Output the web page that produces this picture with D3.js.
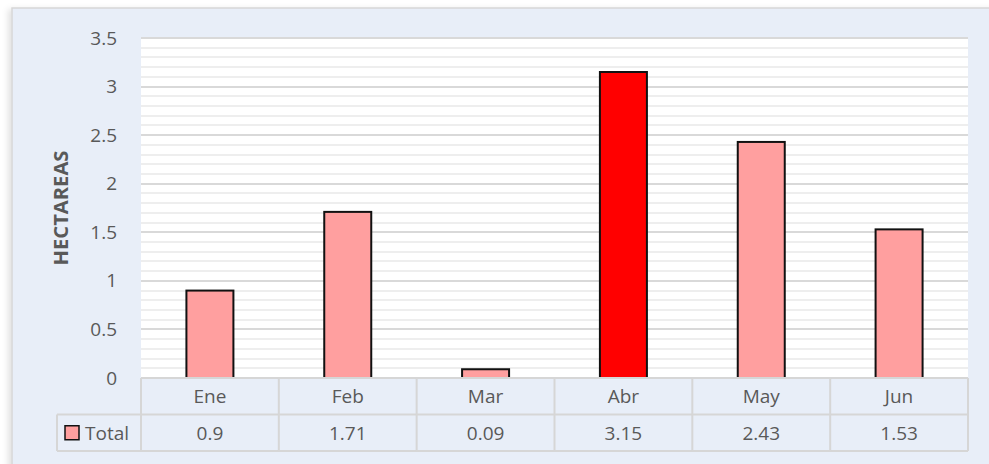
<!DOCTYPE html>
<html>
<head>
    <meta charset="utf-8" />
    <title>Hectareas</title>
    <script src="https://cdn.jsdelivr.net/npm/d3@7"></script>
    <style>
        body { margin: 0; background: #fff; }
        text { font-family: "Open Sans", "Noto Sans", sans-serif; fill: #595959; }
    </style>
</head>
<body>
<script>
    // datos
    var months = ["Ene", "Feb", "Mar", "Abr", "May", "Jun"];
    var totals = [0.9, 1.71, 0.09, 3.15, 2.43, 1.53];
    var totalLabels = ["0.9", "1.71", "0.09", "3.15", "2.43", "1.53"];
    var yTicks = [0, 0.5, 1, 1.5, 2, 2.5, 3, 3.5];
    var highlight = "Abr";

    var width = 989,
        height = 464,
        plotLeft = 141,
        plotRight = 968,
        plotTop = 38,
        plotBottom = 378,
        rowH = 36.5,
        fontSize = "19px";

    var x = d3.scaleBand().domain(months).range([plotLeft, plotRight]).paddingInner(0).paddingOuter(0);
    var y = d3.scaleLinear().domain([0, 3.5]).range([plotBottom, plotTop]);

    var svg = d3.select("body").append("svg")
        .attr("width", width)
        .attr("height", height);

    // fondo del grafico con sombra
    var defs = svg.append("defs");
    var f = defs.append("filter").attr("id", "shadow").attr("x", "-5%").attr("y", "-5%").attr("width", "110%").attr("height", "110%");
    f.append("feDropShadow").attr("dx", -3).attr("dy", 2).attr("stdDeviation", 3).attr("flood-color", "#000").attr("flood-opacity", 0.12);

    svg.append("rect")
        .attr("x", 12).attr("y", 8)
        .attr("width", width).attr("height", height)
        .attr("fill", "#E8EEF8")
        .attr("stroke", "#d6d6d6")
        .attr("stroke-width", 1.5)
        .attr("filter", "url(#shadow)");

    // area de trazado
    svg.append("rect")
        .attr("x", plotLeft).attr("y", plotTop)
        .attr("width", plotRight - plotLeft).attr("height", plotBottom - plotTop)
        .attr("fill", "#fff");

    // lineas menores
    var minor = d3.range(1, 35).filter(function(i) { return i % 5 !== 0; }).map(function(i) { return i / 10; });
    svg.append("g").selectAll("line")
        .data(minor)
        .enter().append("line")
        .attr("x1", plotLeft).attr("x2", plotRight)
        .attr("y1", function(d) { return Math.round(y(d)); })
        .attr("y2", function(d) { return Math.round(y(d)); })
        .attr("stroke", "#eeeeee")
        .attr("stroke-width", 2);

    // lineas mayores
    svg.append("g").selectAll("line")
        .data(yTicks.slice(1))
        .enter().append("line")
        .attr("x1", plotLeft).attr("x2", plotRight)
        .attr("y1", function(d) { return Math.round(y(d)); })
        .attr("y2", function(d) { return Math.round(y(d)); })
        .attr("stroke", "#d9d9d9")
        .attr("stroke-width", 2);

    // eje y
    var yAxis = d3.axisLeft(y).tickValues(yTicks).tickSize(0).tickPadding(24)
        .tickFormat(function(d) { return String(d); });
    var gy = svg.append("g")
        .attr("transform", "translate(" + plotLeft + ",0)")
        .call(yAxis);
    gy.select(".domain").remove();
    gy.selectAll("text")
        .style("font-size", fontSize)
        .style("font-family", null)
        .attr("font-family", null)
        .attr("fill", "#595959");

    svg.append("text")
        .attr("transform", "translate(68," + ((plotTop + plotBottom) / 2) + ") rotate(-90)")
        .attr("text-anchor", "middle")
        .attr("textLength", 115)
        .attr("lengthAdjust", "spacingAndGlyphs")
        .style("font-size", "20px")
        .style("font-weight", "bold")
        .text("HECTAREAS");

    // barras
    var barW = 47;
    svg.append("g").selectAll("rect")
        .data(months)
        .enter().append("rect")
        .attr("x", function(d) { return x(d) + x.bandwidth() / 2 - barW / 2; })
        .attr("y", function(d, i) { return y(totals[i]); })
        .attr("width", barW)
        .attr("height", function(d, i) { return y(0) - y(totals[i]); })
        .attr("fill", function(d) { return d === highlight ? "#FF0000" : "#FF9F9F"; })
        .attr("stroke", "#111")
        .attr("stroke-width", 2);

    // tabla de datos
    var tbl = svg.append("g");
    var lineColor = "#d6d6d6";
    var tableBottom = plotBottom + 2 * rowH;

    tbl.append("line")
        .attr("x1", plotLeft).attr("x2", plotRight)
        .attr("y1", plotBottom).attr("y2", plotBottom)
        .attr("stroke", lineColor).attr("stroke-width", 2);
    tbl.append("line")
        .attr("x1", 57).attr("x2", plotRight)
        .attr("y1", plotBottom + rowH).attr("y2", plotBottom + rowH)
        .attr("stroke", lineColor).attr("stroke-width", 2);
    tbl.append("line")
        .attr("x1", 57).attr("x2", plotRight)
        .attr("y1", tableBottom).attr("y2", tableBottom)
        .attr("stroke", lineColor).attr("stroke-width", 2);
    tbl.append("line")
        .attr("x1", 57).attr("x2", 57)
        .attr("y1", plotBottom + rowH).attr("y2", tableBottom)
        .attr("stroke", lineColor).attr("stroke-width", 2);

    var edges = months.map(function(d) { return x(d); }).concat([plotRight]);
    tbl.selectAll("line.v")
        .data(edges)
        .enter().append("line")
        .attr("class", "v")
        .attr("x1", function(d) { return d; }).attr("x2", function(d) { return d; })
        .attr("y1", plotBottom).attr("y2", tableBottom)
        .attr("stroke", lineColor).attr("stroke-width", 2);

    tbl.selectAll("text.cat")
        .data(months)
        .enter().append("text")
        .attr("class", "cat")
        .attr("x", function(d) { return x(d) + x.bandwidth() / 2; })
        .attr("y", plotBottom + rowH / 2 + 7)
        .attr("text-anchor", "middle")
        .style("font-size", fontSize)
        .text(function(d) { return d; });

    tbl.selectAll("text.val")
        .data(months)
        .enter().append("text")
        .attr("class", "val")
        .attr("x", function(d) { return x(d) + x.bandwidth() / 2; })
        .attr("y", plotBottom + rowH * 1.5 + 7)
        .attr("text-anchor", "middle")
        .style("font-size", fontSize)
        .text(function(d, i) { return totalLabels[i]; });

    // leyenda
    tbl.append("rect")
        .attr("x", 65).attr("y", plotBottom + rowH * 1.5 - 7)
        .attr("width", 14).attr("height", 14)
        .attr("fill", "#FF9F9F")
        .attr("stroke", "#111")
        .attr("stroke-width", 1.5);
    tbl.append("text")
        .attr("x", 85)
        .attr("y", plotBottom + rowH * 1.5 + 7)
        .style("font-size", fontSize)
        .text("Total");
</script>
</body>
</html>
